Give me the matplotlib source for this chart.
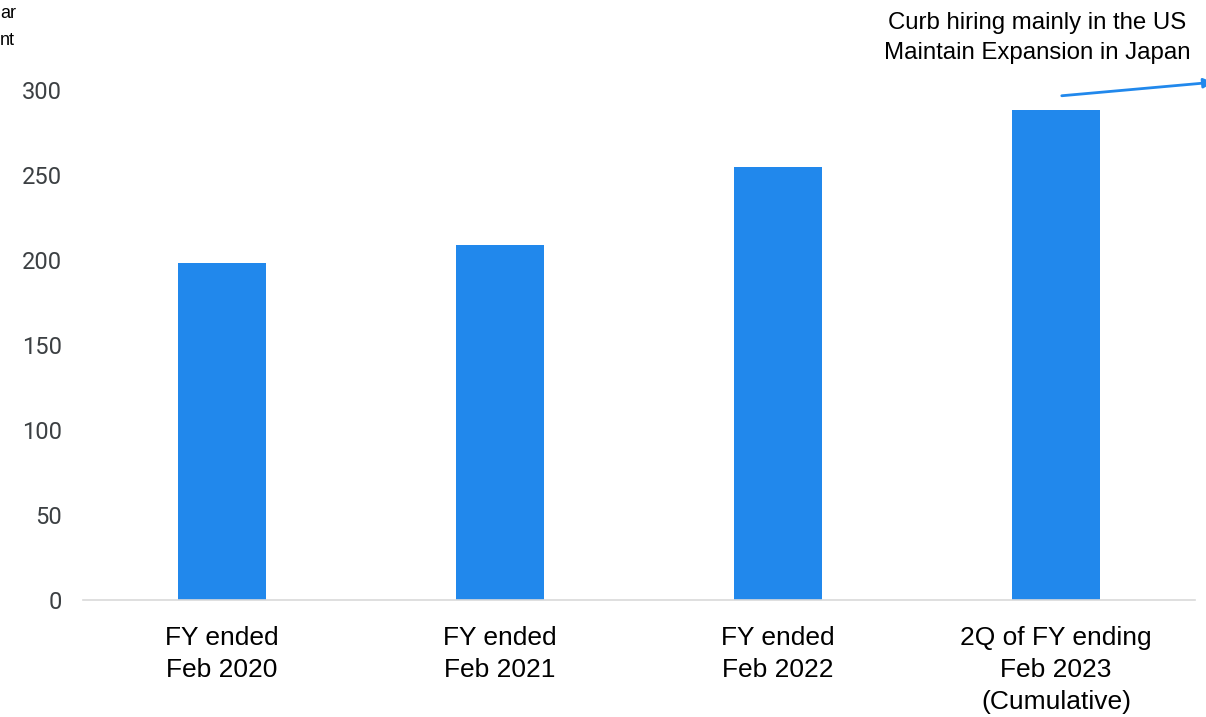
import matplotlib.pyplot as plt
from matplotlib.patches import FancyArrowPatch

# Headcount by fiscal period
periods = ['FY ended\nFeb 2020', 'FY ended\nFeb 2021', 'FY ended\nFeb 2022',
           '2Q of FY ending\nFeb 2023\n(Cumulative)']
headcount = [198, 209, 255, 288]
yticks = [0, 50, 100, 150, 200, 250, 300]

bar_color = '#2188ec'

fig = plt.figure(figsize=(12.06, 7.17), dpi=100)
ax = fig.add_axes([83 / 1206, 117 / 717, 1112 / 1206, 540 / 717])

x = range(len(periods))
ax.bar(x, headcount, width=0.313, color=bar_color, zorder=2)

ax.set_xlim(-0.5, 3.5)
ax.set_ylim(0, 300 * 540 / 510)
ax.set_yticks(yticks)
ax.set_yticklabels([str(v) for v in yticks], fontsize=17, color='#3c4043',
                   family='Roboto')
ax.set_xticks(list(x))
ax.set_xticklabels(periods, fontsize=19, family='Liberation Sans',
                   linespacing=1.42, va='top')
ax.tick_params(axis='y', length=0, pad=15)
ax.tick_params(axis='x', length=0, pad=19)

for side in ['top', 'right', 'left']:
    ax.spines[side].set_visible(False)
ax.spines['bottom'].set_color('#d9d9d9')
ax.spines['bottom'].set_linewidth(1.2)

# clipped axis title in the corner
fig.text(0, 717 - 27, 'ar\nnt', transform=None, fontsize=13,
         family='Liberation Sans', va='center', ha='left', linespacing=1.75)

# callout over the latest period
fig.text(1037, 717 - 38, 'Curb hiring mainly in the US\nMaintain Expansion in Japan',
         transform=None, fontsize=17.3, family='Liberation Sans',
         ha='center', va='center', linespacing=1.45)
arrow = FancyArrowPatch((1059 / 1206, 1 - 96 / 717), (1216 / 1206, 1 - 82 / 717),
                        transform=fig.transFigure, arrowstyle='-|>',
                        mutation_scale=14, color=bar_color, lw=2)
fig.patches.append(arrow)

fig.savefig('out.png', dpi=100)
